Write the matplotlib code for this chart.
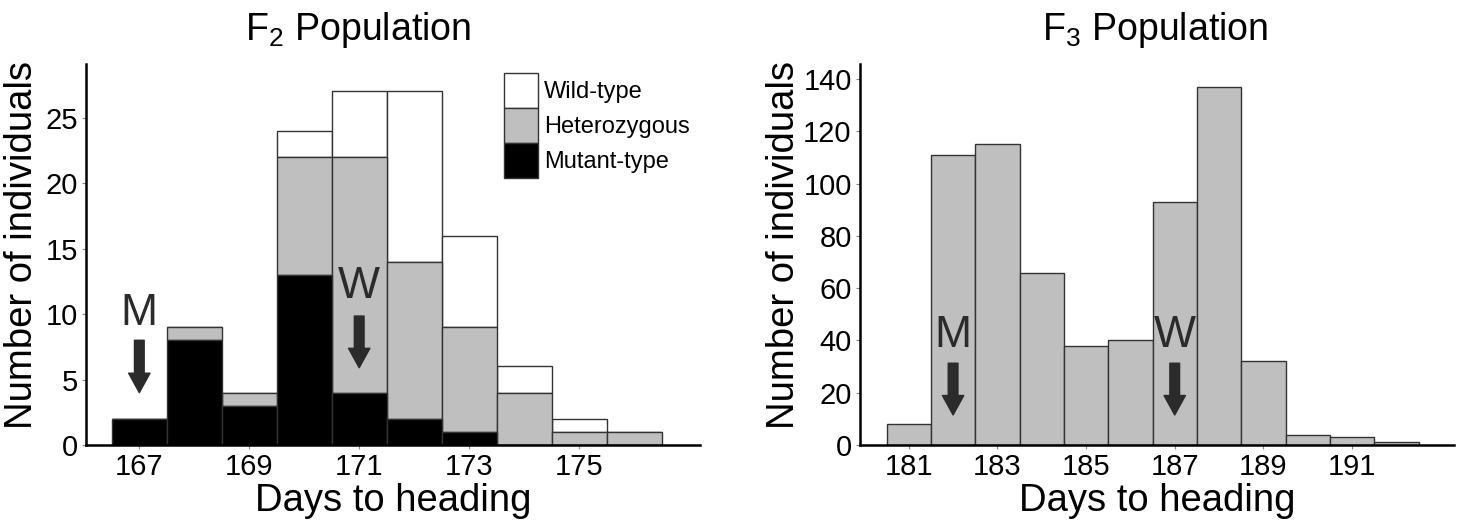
import matplotlib
matplotlib.use("Agg")
import matplotlib.pyplot as plt
from matplotlib.patches import Patch

plt.rcParams['font.family'] = ['Liberation Sans', 'DejaVu Sans']
plt.rcParams['mathtext.fontset'] = 'custom'
plt.rcParams['mathtext.rm'] = 'Liberation Sans'
plt.rcParams['mathtext.default'] = 'regular'

# F2 data
f2_days = [167, 168, 169, 170, 171, 172, 173, 174, 175, 176]
f2_mutant = [2, 8, 3, 13, 4, 2, 1, 0, 0, 0]
f2_het = [0, 1, 1, 9, 18, 12, 8, 4, 1, 1]
f2_wild = [0, 0, 0, 2, 5, 13, 7, 2, 1, 0]
f2_ticks = [167, 169, 171, 173, 175]
f2_yticks = [0, 5, 10, 15, 20, 25]

# F3 data
f3_days = [181, 182, 183, 184, 185, 186, 187, 188, 189, 190, 191, 192]
f3_counts = [8, 111, 115, 66, 38, 40, 93, 137, 32, 4, 3, 1]
f3_ticks = [181, 183, 185, 187, 189, 191]
f3_yticks = [0, 20, 40, 60, 80, 100, 120, 140]

BLACK = '#000000'
GRAY = '#bfbfbf'
WHITE = '#ffffff'
EDGE = '#333333'
ARROW = '#2b2b2b'

fig = plt.figure(figsize=(14.63, 5.23), dpi=100)
ax1 = fig.add_axes([86/1463, 1-445/523, (700-86)/1463, (445-64)/523])
ax2 = fig.add_axes([860/1463, 1-445/523, (1454-860)/1463, (445-64)/523])

# Left panel stacked bars
bottom_het = list(f2_mutant)
bottom_wild = [m + h for m, h in zip(f2_mutant, f2_het)]
ax1.bar(f2_days, f2_wild, bottom=bottom_wild, width=1, color=WHITE, edgecolor=EDGE, linewidth=1)
ax1.bar(f2_days, f2_het, bottom=bottom_het, width=1, color=GRAY, edgecolor=EDGE, linewidth=1)
ax1.bar(f2_days, f2_mutant, width=1, color=BLACK, edgecolor=EDGE, linewidth=1)

ax1.set_xlim(166.03, 177.2)
ax1.set_ylim(0, 29.1)
ax1.set_xticks(f2_ticks)
ax1.set_yticks(f2_yticks)

# Right panel
ax2.bar(f3_days, f3_counts, width=1, color=GRAY, edgecolor=EDGE, linewidth=1)
ax2.set_xlim(179.9, 193.3)
ax2.set_ylim(0, 145.8)
ax2.set_xticks(f3_ticks)
ax2.set_yticks(f3_yticks)

for ax in (ax1, ax2):
    for s in ('top', 'right'):
        ax.spines[s].set_visible(False)
    for s in ('left', 'bottom'):
        ax.spines[s].set_linewidth(1.8)
        ax.spines[s].set_color('black')
    ax.tick_params(axis='both', length=3, width=0.8, color='#888888', labelsize=21, pad=3)
    ax.set_xlabel('Days to heading', fontsize=27.5, labelpad=1)
    ax.set_ylabel('Number of individuals', fontsize=27.5, labelpad=3)

ax1.yaxis.set_label_coords(-0.075, 0.525)
ax2.yaxis.set_label_coords(-0.098, 0.525)

arrow_kw = dict(arrowstyle='simple,head_length=1.0,head_width=1.1,tail_width=0.5',
                color=ARROW, shrinkA=0, shrinkB=0, mutation_scale=14)

for ax, x, letter, ytext, ytail, ytip in [
        (ax1, 167, 'M', 9.2, 8.0, 4.0),
        (ax1, 171, 'W', 11.2, 9.85, 5.9),
        (ax2, 182, 'M', 37.4, 31.3, 11.5),
        (ax2, 187, 'W', 37.4, 31.3, 11.5)]:
    ax.text(x, ytext, letter, fontsize=32, color=ARROW, ha='center', va='baseline')
    ax.annotate('', xy=(x, ytip), xytext=(x, ytail), arrowprops=arrow_kw)

# Legend
handles = [Patch(facecolor=WHITE, edgecolor=EDGE, linewidth=1, label='Wild-type'),
           Patch(facecolor=GRAY, edgecolor=EDGE, linewidth=1, label='Heterozygous'),
           Patch(facecolor=BLACK, edgecolor=EDGE, linewidth=1, label='Mutant-type')]
ax1.legend(handles=handles, loc='upper left', bbox_to_anchor=((504-86)/614, 1 - (73-64)/381),
           frameon=False, fontsize=17, handlelength=1.45, handleheight=1.9,
           labelspacing=0.0, handletextpad=0.25, borderpad=0, borderaxespad=0)

# Titles
fig.text(358/1463, 1-40/523, r'F$_2$ Population', fontsize=27, ha='center', va='baseline')
fig.text(1155/1463, 1-40/523, r'F$_3$ Population', fontsize=27, ha='center', va='baseline')

fig.savefig('out.png', dpi=100)
